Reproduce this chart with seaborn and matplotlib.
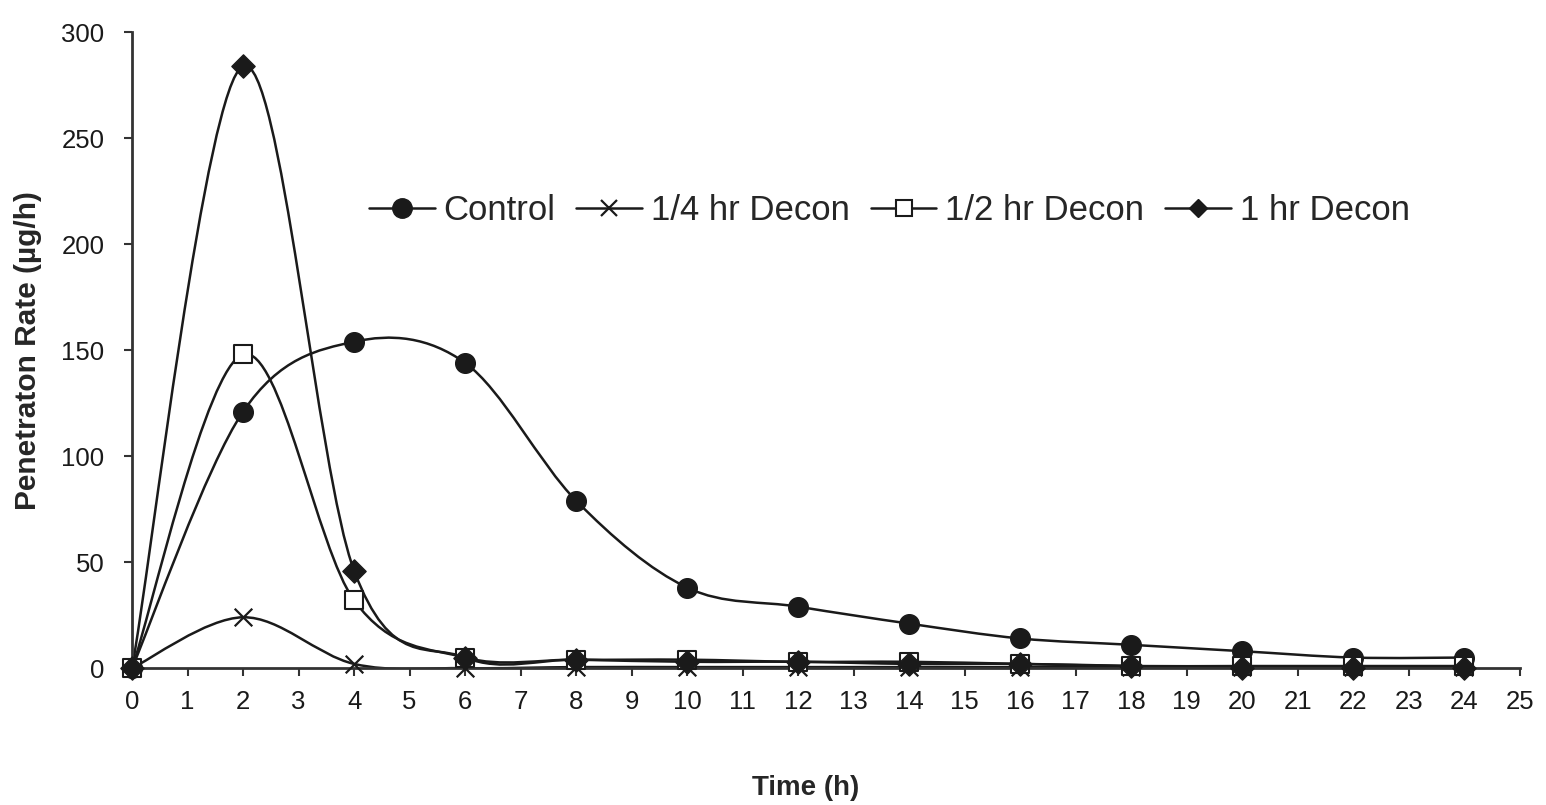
import numpy as np
import pandas as pd
import seaborn as sns
import matplotlib.pyplot as plt
from matplotlib.path import Path
from matplotlib.patches import PathPatch
from matplotlib.lines import Line2D

# time points (h)
time_h = [0, 2, 4, 6, 8, 10, 12, 14, 16, 18, 20, 22, 24]

# penetration rate (ug/h)
control = [0, 121, 154, 144, 79, 38, 29, 21, 14, 11, 8, 5, 5]
decon_quarter = [0, 24, 2, 0, 0.5, 0.5, 0.5, 0.5, 0.5, 0.5, 0.5, 0.5, 0.5]
decon_half = [0, 148, 32, 5, 4, 4, 3, 3, 2, 1, 1, 1, 1]
decon_one = [0, 284, 46, 5, 4, 3, 3, 2, 2, 1, 0, 0, 0]

series_names = ["Control", "1/4 hr Decon", "1/2 hr Decon", "1 hr Decon"]
series_values = [control, decon_quarter, decon_half, decon_one]

df = pd.DataFrame({"Time": time_h * 4,
                   "Rate": sum(series_values, []),
                   "Series": np.repeat(series_names, len(time_h))})

ink = "#1a1a1a"
styles = {
    "Control": dict(marker="o", s=200, face=ink, lw=1, ms=14),
    "1/4 hr Decon": dict(marker="x", s=160, face=ink, lw=1.6, ms=12),
    "1/2 hr Decon": dict(marker="s", s=150, face="white", lw=1.5, ms=11),
    "1 hr Decon": dict(marker="D", s=140, face=ink, lw=1, ms=9),
}


def smooth_path(xs, ys):
    # Excel-style smoothed line: cubic Bezier segments through the data points
    pts = np.column_stack([xs, ys]).astype(float)
    n = len(pts)
    verts = [pts[0]]
    codes = [Path.MOVETO]
    for i in range(n - 1):
        p0 = pts[max(i - 1, 0)]
        p1 = pts[i]
        p2 = pts[i + 1]
        p3 = pts[min(i + 2, n - 1)]
        c1 = p1 + (p2 - p0) / 6.0
        c2 = p2 - (p3 - p1) / 6.0
        verts += [c1, c2, p2]
        codes += [Path.CURVE4] * 3
    return Path(verts, codes)


sns.set_style("ticks")
plt.rcParams["font.family"] = ["Liberation Sans", "DejaVu Sans"]

fig = plt.figure(figsize=(15.46, 8.05), dpi=100)
ax = fig.add_axes([0.0854, 0.170, 0.8977, 0.790])

for name, vals in zip(series_names, series_values):
    patch = PathPatch(smooth_path(time_h, vals), facecolor="none",
                      edgecolor=ink, lw=1.8, zorder=2)
    ax.add_patch(patch)

for k, name in enumerate(series_names):
    st = styles[name]
    sns.scatterplot(data=df[df["Series"] == name], x="Time", y="Rate", ax=ax,
                    marker=st["marker"], s=st["s"], color=st["face"],
                    edgecolor=ink, linewidth=st["lw"],
                    zorder=3 + k, clip_on=False, legend=False)

ax.set_xlim(0, 25)
ax.set_ylim(0, 300)
ax.set_xticks(range(0, 26))
ax.set_yticks(range(0, 301, 50))
ax.tick_params(axis="both", direction="out", length=6, width=1.5,
               color="#333333", labelsize=18.5, labelcolor=ink)
ax.tick_params(axis="y", pad=14)
ax.tick_params(axis="x", pad=10)
for side in ["top", "right"]:
    ax.spines[side].set_visible(False)
for side in ["left", "bottom"]:
    ax.spines[side].set_linewidth(2)
    ax.spines[side].set_color("#333333")

ax.set_xlabel("Time (h)", fontsize=20, fontweight="bold")
ax.xaxis.set_label_coords(0.485, -0.168)
ax.set_ylabel("Penetraton Rate (µg/h)", fontsize=21.5, fontweight="bold")
ax.yaxis.set_label_coords(-0.065, 0.5)

handles = []
for name in series_names:
    st = styles[name]
    handles.append(Line2D([], [], color=ink, lw=1.8, marker=st["marker"],
                          markersize=st["ms"], markerfacecolor=st["face"],
                          markeredgecolor=ink, markeredgewidth=st["lw"]))
ax.legend(handles, series_names, loc="center left", bbox_to_anchor=(0.158, 0.72),
          ncol=4, frameon=False, fontsize=25, handlelength=1.9, borderpad=0,
          handletextpad=0.25, columnspacing=0.6)

fig.savefig("out.png", dpi=100)
